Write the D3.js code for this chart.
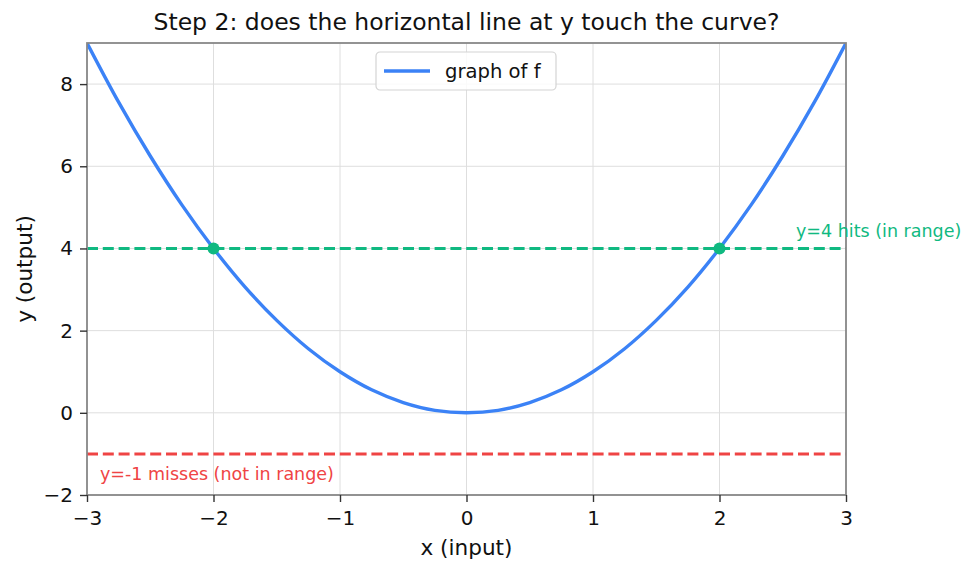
<!DOCTYPE html>
<html>
<head>
<meta charset="utf-8">
<script src="https://cdn.jsdelivr.net/npm/d3@7"></script>
<style>
  html, body { margin: 0; padding: 0; background: #fff; }
  svg { display: block; font-family: 'DejaVu Sans', sans-serif; }
</style>
</head>
<body>
<div id="chart"></div>
<script>
// curve samples (graph of f)
const curveX = [-3, -2.75, -2.5, -2.25, -2, -1.75, -1.5, -1.25, -1, -0.75, -0.5, -0.25, 0,
                0.25, 0.5, 0.75, 1, 1.25, 1.5, 1.75, 2, 2.25, 2.5, 2.75, 3];
const curveY = [9, 7.56, 6.25, 5.06, 4, 3.06, 2.25, 1.56, 1, 0.56, 0.25, 0.06, 0,
                0.06, 0.25, 0.56, 1, 1.56, 2.25, 3.06, 4, 5.06, 6.25, 7.56, 9];
const hitPointsX = [-2, 2];
const hitPointsY = [4, 4];
const hLineHit = 4;
const hLineMiss = -1;
const xTicks = [-3, -2, -1, 0, 1, 2, 3];
const yTicks = [-2, 0, 2, 4, 6, 8];

const W = 975, H = 571;
const margin = { top: 43, right: 129, bottom: 76, left: 87 };
const width = W - margin.left - margin.right;
const height = H - margin.top - margin.bottom;

const BLUE = '#3b82f6', GREEN = '#10b981', RED = '#ef4444';

const svg = d3.select('#chart').append('svg')
    .attr('width', W).attr('height', H);

const g = svg.append('g').attr('transform', `translate(${margin.left},${margin.top})`);

const x = d3.scaleLinear().domain([-3, 3]).range([0, width]);
const y = d3.scaleLinear().domain([-2, 9]).range([height, 0]);

// grid
g.append('g').selectAll('line').data(xTicks).enter().append('line')
    .attr('x1', d => x(d)).attr('x2', d => x(d)).attr('y1', 0).attr('y2', height)
    .attr('stroke', '#dedede').attr('stroke-width', 1);
g.append('g').selectAll('line').data(yTicks).enter().append('line')
    .attr('x1', 0).attr('x2', width).attr('y1', d => y(d)).attr('y2', d => y(d))
    .attr('stroke', '#dedede').attr('stroke-width', 1);

svg.append('clipPath').attr('id', 'clip').append('rect')
    .attr('x', 0).attr('y', 0).attr('width', width).attr('height', height);

const plot = g.append('g').attr('clip-path', 'url(#clip)');

// horizontal lines
plot.append('line')
    .attr('x1', 0).attr('x2', width).attr('y1', y(hLineHit)).attr('y2', y(hLineHit))
    .attr('stroke', GREEN).attr('stroke-width', 3).attr('stroke-dasharray', '11,4.8');
plot.append('line')
    .attr('x1', 0).attr('x2', width).attr('y1', y(hLineMiss)).attr('y2', y(hLineMiss))
    .attr('stroke', RED).attr('stroke-width', 3).attr('stroke-dasharray', '11,4.8');

// curve
const pts = curveX.map((v, i) => [v, curveY[i]]);
plot.append('path')
    .datum(pts)
    .attr('fill', 'none')
    .attr('stroke', BLUE)
    .attr('stroke-width', 3.4)
    .attr('d', d3.line().x(d => x(d[0])).y(d => y(d[1])).curve(d3.curveCatmullRom));

// hit markers
g.append('g').selectAll('circle').data(hitPointsX).enter().append('circle')
    .attr('cx', d => x(d)).attr('cy', (d, i) => y(hitPointsY[i]))
    .attr('r', 6).attr('fill', GREEN);

// spines
g.append('rect').attr('x', 0).attr('y', 0).attr('width', width).attr('height', height)
    .attr('fill', 'none').attr('stroke', '#888').attr('stroke-width', 1.8);

// axes
const fmt = d => d < 0 ? '\u2212' + Math.abs(d) : d;
const xAxis = g.append('g').attr('transform', `translate(0,${height})`)
    .call(d3.axisBottom(x).tickValues(xTicks).tickSize(7).tickPadding(9).tickFormat(fmt));
const yAxis = g.append('g')
    .call(d3.axisLeft(y).tickValues(yTicks).tickSize(7).tickPadding(7).tickFormat(fmt));
[xAxis, yAxis].forEach(a => {
    a.select('.domain').remove();
    a.selectAll('line').attr('stroke', '#333').attr('stroke-width', 1.4);
    a.selectAll('text').attr('fill', '#111').style('font-size', '20px')
        .style('font-family', 'DejaVu Sans, sans-serif');
});

// labels
svg.append('text').attr('x', margin.left + width / 2).attr('y', 30)
    .attr('text-anchor', 'middle').attr('fill', '#111').style('font-size', '23.5px')
    .text('Step 2: does the horizontal line at y touch the curve?');
svg.append('text').attr('x', margin.left + width / 2).attr('y', 555)
    .attr('text-anchor', 'middle').attr('fill', '#111').style('font-size', '21.6px')
    .text('x (input)');
svg.append('text').attr('transform', 'rotate(-90)')
    .attr('x', -(margin.top + height / 2)).attr('y', 32)
    .attr('text-anchor', 'middle').attr('fill', '#111').style('font-size', '21.6px')
    .text('y (output)');

// annotations
svg.append('text').attr('x', 796).attr('y', 237).attr('fill', GREEN)
    .style('font-size', '17.5px').text('y=4 hits (in range)');
svg.append('text').attr('x', 100).attr('y', 480).attr('fill', RED)
    .style('font-size', '17.5px').text('y=-1 misses (not in range)');

// legend
const lg = svg.append('g').attr('transform', 'translate(376,52)');
lg.append('rect').attr('width', 180).attr('height', 38).attr('rx', 4)
    .attr('fill', '#fff').attr('fill-opacity', 0.85).attr('stroke', '#d4d4d4').attr('stroke-width', 1.2);
lg.append('line').attr('x1', 8).attr('x2', 54).attr('y1', 19).attr('y2', 19)
    .attr('stroke', BLUE).attr('stroke-width', 3.4);
lg.append('text').attr('x', 69).attr('y', 26).attr('fill', '#111')
    .style('font-size', '19.6px').text('graph of f');
</script>
</body>
</html>
